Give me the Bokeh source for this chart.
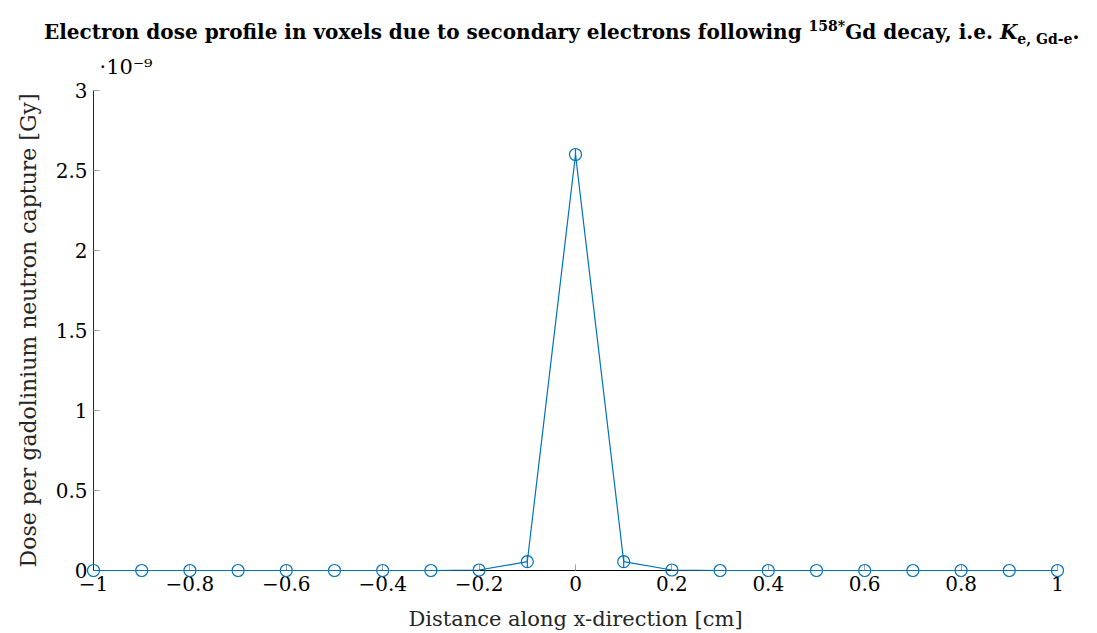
from bokeh.plotting import figure
from bokeh.models import Div, FixedTicker
from bokeh.core.properties import value
from bokeh.layouts import column
from bokeh.embed import file_html
from bokeh.resources import INLINE

# Data (dose in units of 1e-9 Gy)
x_cm = [-1.0, -0.9, -0.8, -0.7, -0.6, -0.5, -0.4, -0.3, -0.2, -0.1, 0.0,
        0.1, 0.2, 0.3, 0.4, 0.5, 0.6, 0.7, 0.8, 0.9, 1.0]
dose = [0.0, 0.0, 0.0, 0.0, 0.0, 0.0, 0.0, 0.0, 0.003, 0.055, 2.6,
        0.055, 0.003, 0.0, 0.0, 0.0, 0.0, 0.0, 0.0, 0.0, 0.0]
dose_err = [0.0, 0.0, 0.0, 0.0, 0.0, 0.0, 0.0, 0.0, 0.0, 0.035, 0.035,
            0.035, 0.0, 0.0, 0.0, 0.0, 0.0, 0.0, 0.0, 0.0, 0.0]
x_ticks = [-1, -0.8, -0.6, -0.4, -0.2, 0, 0.2, 0.4, 0.6, 0.8, 1]
x_tick_labels = ["−1", "−0.8", "−0.6", "−0.4", "−0.2", "0", "0.2", "0.4", "0.6", "0.8", "1"]
y_ticks = [0, 0.5, 1, 1.5, 2, 2.5, 3]
y_tick_labels = ["0", "0.5", "1", "1.5", "2", "2.5", "3"]
multiplier = "·10⁻⁹"
x_label = "Distance along x-direction [cm]"
y_label = "Dose per gadolinium neutron capture [Gy]"

FONT = "DejaVu Serif"
BLUE = "#0072BD"

title = Div(
    text=('<div style="font-family:\'DejaVu Serif\';font-weight:bold;font-size:20px;'
          'white-space:nowrap;color:#000;line-height:28px;">'
          'Electron dose profile in voxels due to secondary electrons following '
          '<sup style="font-size:14px">158*</sup>Gd decay, i.e. '
          '<i>K</i><sub style="font-size:14px">e, Gd-e</sub>.</div>'),
    width=1097, height=50,
    styles={"padding-left": "44px", "padding-top": "12px"},
    margin=(0, 0, 0, 0),
)

p = figure(width=1097, height=583, x_range=(-1, 1), y_range=(0, 3),
           output_backend="svg", toolbar_location=None,
           min_border_left=93, min_border_right=40,
           min_border_top=40, min_border_bottom=63)
p.margin = (0, 0, 0, 0)
p.xgrid.visible = False
p.ygrid.visible = False
p.outline_line_color = None
p.background_fill_color = "white"
p.border_fill_color = "white"

p.xaxis.ticker = FixedTicker(ticks=x_ticks)
p.xaxis.major_label_overrides = {t: l for t, l in zip(x_ticks, x_tick_labels)}
p.yaxis.ticker = FixedTicker(ticks=y_ticks)
p.yaxis.major_label_overrides = {t: l for t, l in zip(y_ticks, y_tick_labels)}

for ax in (p.xaxis[0], p.yaxis[0]):
    ax.major_tick_in = 6
    ax.major_tick_out = 0
    ax.minor_tick_in = 0
    ax.minor_tick_out = 0
    ax.major_tick_line_color = "#a0a0a0"
    ax.major_label_text_font = FONT
    ax.major_label_text_font_size = "20px"
    ax.major_label_text_color = "black"
    ax.axis_label_text_font = FONT
    ax.axis_label_text_font_size = "22px"
    ax.axis_label_text_font_style = "normal"
    ax.axis_label_text_color = "#262626"

p.xaxis.axis_line_color = "black"
p.yaxis.axis_line_color = "#262626"
p.yaxis.axis_label = y_label
p.xaxis.major_label_standoff = 5
p.yaxis.major_label_standoff = 6
p.yaxis.axis_label_standoff = 12

p.line(x_cm, dose, line_color=BLUE, line_width=1.2, level="overlay")
p.segment(x0=x_cm, y0=[d - e for d, e in zip(dose, dose_err)],
          x1=x_cm, y1=[d + e for d, e in zip(dose, dose_err)],
          line_color=BLUE, line_width=1.2, level="overlay")
p.scatter(x_cm, dose, marker="circle", size=12, fill_color=None,
          line_color=BLUE, line_width=1.2, level="overlay")

p.text(x=[x_ticks[0]], y=[y_ticks[-1]], text=[multiplier], x_offset=6, y_offset=-24,
       text_font=value(FONT), text_font_size="21px", text_baseline="middle",
       text_align="left", text_color="black", level="overlay")
p.text(x=[0], y=[0], text=[x_label], y_offset=48,
       text_font=value(FONT), text_font_size="21px", text_align="center",
       text_baseline="middle", text_color="#262626", level="overlay")

layout = column(title, p, spacing=0, margin=(0, 0, 0, 0))
open("out.html", "w").write(file_html(layout, INLINE))
